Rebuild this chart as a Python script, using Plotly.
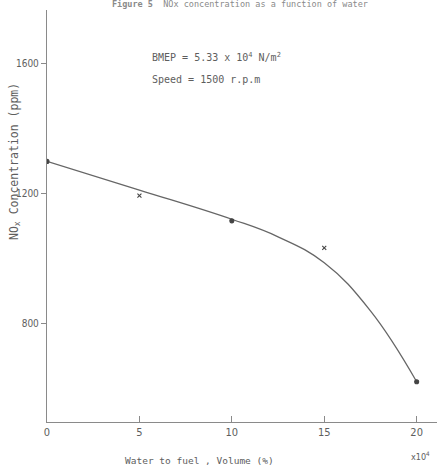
import plotly.graph_objects as go

# measured data points
water_pct = [0, 5, 10, 15, 20]
nox_ppm = [1300, 1195, 1117, 1034, 622]
marker_syms = ["circle", "x-thin", "circle", "x-thin", "circle"]

# hand-drawn fitted curve
curve_x = [0, 5, 10, 12.5, 15, 17.5, 20]
curve_y = [1300, 1212, 1122, 1068, 988, 840, 622]

x_ticks = [0, 5, 10, 15, 20]
y_ticks = [800, 1200, 1600]

FONT = "DejaVu Sans Condensed"
MONO = "DejaVu Sans Mono"
INK = "#5e5e5e"

fig = go.Figure()
fig.add_trace(go.Scatter(
    x=curve_x, y=curve_y, mode="lines", line=dict(color="#666666", width=1.3, shape="spline", smoothing=1.2),
    hoverinfo="skip", showlegend=False))
fig.add_trace(go.Scatter(
    x=water_pct, y=nox_ppm, mode="markers",
    marker=dict(symbol=marker_syms, size=4, color="#444444", line=dict(color="#444444", width=1.1)),
    showlegend=False))

fig.update_layout(
    width=445, height=469,
    margin=dict(l=47, r=8, t=10, b=47),
    paper_bgcolor="white", plot_bgcolor="white",
    font=dict(family=FONT, color=INK, size=10),
    xaxis=dict(range=[0, 21.1], tickvals=x_ticks, ticktext=[str(v) for v in x_ticks], automargin=False,
               showgrid=False, zeroline=False, showline=True, linecolor="#8a8a8a", linewidth=1.3,
               ticks="inside", ticklen=6, tickcolor="#8a8a8a", tickfont=dict(size=11, color=INK, family=FONT)),
    yaxis=dict(range=[498, 1766], tickvals=y_ticks, ticktext=[str(v) for v in y_ticks], automargin=False,
               showgrid=False, zeroline=False, showline=True, linecolor="#8a8a8a", linewidth=1.3,
               ticks="outside", ticklen=5, tickcolor="#8a8a8a", tickfont=dict(size=10, color=INK, family=FONT)),
    annotations=[
        dict(text="BMEP = 5.33 x 10<sup>4</sup> N/m<sup>2</sup>", x=150, y=57,
             showarrow=False, xanchor="left", yanchor="middle", font=dict(size=10, color=INK, family=MONO)),
        dict(text="Speed = 1500 r.p.m", x=150, y=79, showarrow=False, xanchor="left", yanchor="middle",
             font=dict(size=10, color=INK, family=MONO)),
        dict(text="NO<sub>x</sub> Concentration (ppm)", x=14, y=162, textangle=-90, showarrow=False,
             xanchor="center", yanchor="middle", font=dict(size=11.5, color=INK, family=MONO)),
        dict(text="Water to fuel , Volume (%)", x=199, y=460, showarrow=False, xanchor="center",
             yanchor="middle", font=dict(size=9.5, color=INK, family=MONO)),
        dict(text="x10<sup>4</sup>", x=420, y=456, showarrow=False, xanchor="center", yanchor="middle",
             font=dict(size=9, color=INK, family=FONT)),
        dict(text="<b>Figure 5</b>  NOx concentration as a function of water", x=240, y=4, showarrow=False,
             xanchor="center", yanchor="middle", font=dict(size=8.5, color="#8a8a8a", family=MONO)),
    ],
)
# convert pixel-based annotation positions to paper coordinates
W, H = 445, 469
L, R, T, B = 47, 8, 10, 47
pw, ph = W - L - R, H - T - B
new_ann = []
for a in fig.layout.annotations:
    a.xref = "paper"; a.yref = "paper"
    px, py = a.x, a.y
    a.x = (px - L) / pw
    a.y = 1 - (py - T) / ph
    new_ann.append(a)
fig.layout.annotations = new_ann

fig.write_html("out.html", config={"displayModeBar": False},
               post_script="document.body.style.margin='0';document.body.style.padding='0';")
